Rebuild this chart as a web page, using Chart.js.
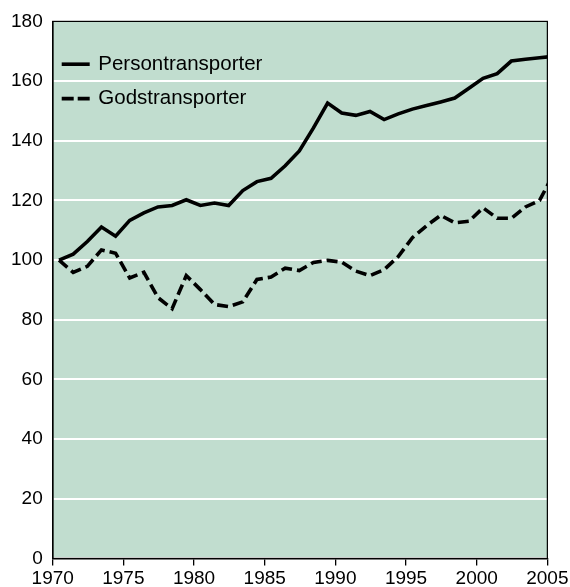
<!DOCTYPE html>
<html>
<head>
<meta charset="utf-8">
<script src="https://cdn.jsdelivr.net/npm/chart.js@4/dist/chart.umd.min.js"></script>
<style>
  html, body { margin: 0; padding: 0; background: #fff; }
  #wrap { width: 570px; height: 587px; }
</style>
</head>
<body>
<div id="wrap"><canvas id="myLineChart"></canvas></div>
<script>
// years, values are index numbers (1970 = 100)
const years = [1970, 1971, 1972, 1973, 1974, 1975, 1976, 1977, 1978, 1979,
               1980, 1981, 1982, 1983, 1984, 1985, 1986, 1987, 1988, 1989,
               1990, 1991, 1992, 1993, 1994, 1995, 1996, 1997, 1998, 1999,
               2000, 2001, 2002, 2003, 2004, 2005];
const persontransporter = [100, 102, 106.2, 111.1, 108, 113.3, 115.8, 117.8, 118.3, 120.2,
                           118.3, 119.1, 118.3, 123.3, 126.3, 127.4, 131.6, 136.6, 144.3, 152.6,
                           149.3, 148.5, 149.8, 147.1, 149, 150.6, 151.8, 153, 154.3, 157.6,
                           160.9, 162.5, 166.7, 167.3, 167.8, 168.3];
const godstransporter = [100, 95.9, 97.9, 103.4, 102.3, 94, 95.9, 87.4, 83.7, 94.8,
                         90.1, 85.1, 84.4, 86, 93.5, 94.3, 97.3, 96.5, 99.2, 99.9,
                         99.3, 96.3, 94.8, 96.8, 101.2, 107.5, 111.5, 115, 112.5, 113,
                         117.5, 114, 114, 117.8, 120, 129];
const seriesNames = ['Persontransporter', 'Godstransporter'];
const xTicks = [1970, 1975, 1980, 1985, 1990, 1995, 2000, 2005];
const yTicks = [0, 20, 40, 60, 80, 100, 120, 140, 160, 180];

// yearly values are plotted at mid-year
const midYear = 0.45;
const toPoints = vals => vals.map((v, i) => ({ x: years[i] + midYear, y: v }));

const FONT = '"Liberation Sans", Arial, Helvetica, sans-serif';

const areaPlugin = {
    id: 'area',
    beforeDraw(chart) {
        const a = chart.chartArea;
        const ctx = chart.ctx;
        ctx.save();
        ctx.fillStyle = '#c1ddcf';
        ctx.fillRect(a.left, a.top, a.right - a.left, a.bottom - a.top);
        ctx.restore();
    },
    afterDraw(chart) {
        const a = chart.chartArea;
        const ctx = chart.ctx;
        ctx.save();
        // frame
        ctx.strokeStyle = '#000';
        ctx.lineWidth = 1.2;
        ctx.strokeRect(a.left, a.top, a.right - a.left, a.bottom - a.top);

        // legend inside the plot
        const rows = [42.8, 77.2];
        chart.data.datasets.forEach((ds, i) => {
            const y = a.top + rows[i];
            ctx.beginPath();
            ctx.setLineDash(ds.borderDash ? [12, 4] : []);
            ctx.lineWidth = ds.borderWidth;
            ctx.strokeStyle = ds.borderColor;
            ctx.moveTo(a.left + 9, y);
            ctx.lineTo(a.left + 37, y);
            ctx.stroke();
            ctx.setLineDash([]);
            ctx.fillStyle = '#000';
            ctx.font = '20.5px ' + FONT;
            ctx.textBaseline = 'middle';
            ctx.textAlign = 'left';
            ctx.fillText(ds.label, a.left + 45.6, y);
        });
        ctx.restore();
    }
};

const ctx = document.getElementById('myLineChart');
new Chart(ctx.getContext('2d'), {
    type: 'line',
    data: {
        datasets: [{
            label: seriesNames[0],
            data: toPoints(persontransporter),
            borderColor: '#000',
            borderWidth: 3.6,
            pointRadius: 0,
            tension: 0,
            clip: 0
        }, {
            label: seriesNames[1],
            data: toPoints(godstransporter),
            borderColor: '#000',
            borderWidth: 3.6,
            borderDash: [11, 5],
            pointRadius: 0,
            tension: 0,
            clip: 0
        }]
    },
    options: {
        responsive: true,
        maintainAspectRatio: false,
        animation: false,
        layout: { padding: { top: 15.5, right: 21.7, left: 0, bottom: 0 } },
        plugins: {
            legend: { display: false },
            tooltip: { enabled: false }
        },
        scales: {
            x: {
                type: 'linear',
                min: xTicks[0],
                max: xTicks[xTicks.length - 1],
                afterBuildTicks(scale) { scale.ticks = xTicks.map(v => ({ value: v })); },
                afterFit(scale) { scale.height = 28.6; },
                grid: { drawOnChartArea: false, tickLength: 7, tickColor: '#000', lineWidth: 1.3 },
                border: { color: '#000', width: 1.5 },
                ticks: {
                    color: '#000',
                    font: { family: FONT, size: 19 },
                    padding: 1.5,
                    maxRotation: 0,
                    callback: v => String(v)
                }
            },
            y: {
                min: yTicks[0],
                max: yTicks[yTicks.length - 1],
                afterBuildTicks(scale) { scale.ticks = yTicks.map(v => ({ value: v })); },
                afterFit(scale) { scale.width = 52.7; },
                grid: { color: '#fff', lineWidth: 2, drawTicks: false },
                border: { color: '#000', width: 1.5 },
                ticks: {
                    color: '#000',
                    font: { family: FONT, size: 19 },
                    padding: 10
                }
            }
        }
    },
    plugins: [areaPlugin]
});
</script>
</body>
</html>
